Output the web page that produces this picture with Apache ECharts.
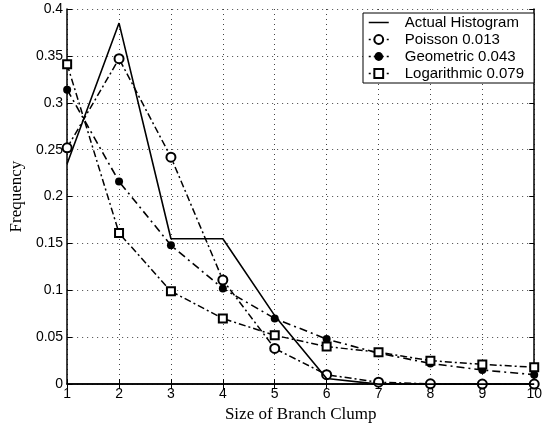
<!DOCTYPE html>
<html>
<head>
<meta charset="utf-8">
<script src="https://cdn.jsdelivr.net/npm/echarts@6/dist/echarts.min.js"></script>
<style>
html,body{margin:0;padding:0;background:#fff;}
#chart{width:545px;height:428px;}
</style>
</head>
<body>
<div id="chart"></div>
<script>
const sizes = [1, 2, 3, 4, 5, 6, 7, 8, 9, 10];
const actualHistogram = [0.235, 0.385, 0.155, 0.155, 0.073, 0.006, 0, 0, 0, 0];
const poisson = [0.252, 0.347, 0.242, 0.111, 0.038, 0.01, 0.002, 0.0003, 0, 0];
const geometric = [0.314, 0.216, 0.148, 0.102, 0.07, 0.048, 0.033, 0.022, 0.015, 0.01];
const logarithmic = [0.341, 0.161, 0.099, 0.07, 0.052, 0.04, 0.034, 0.025, 0.021, 0.018];
const seriesNames = ['Actual Histogram', 'Poisson 0.013', 'Geometric 0.043', 'Logarithmic 0.079'];
const yTickLabels = ['0', '0.05', '0.1', '0.15', '0.2', '0.25', '0.3', '0.35', '0.4'];

const pairs = arr => sizes.map((x, i) => [x, arr[i]]);
const tickFont = {fontFamily: 'Liberation Sans, Arial, sans-serif', fontSize: 14, color: '#000'};
const dashDot = [7, 3, 2, 3];
const legendDash = [2, 3, 5, 3];
const clear = 'rgba(0,0,0,0)';

const chart = echarts.init(document.getElementById('chart'), null, {renderer: 'canvas'});
chart.setOption({
  animation: false,
  backgroundColor: '#fff',
  grid: {left: 62, right: 6, top: 9, bottom: 42, containLabel: false},
  legend: {
    orient: 'vertical',
    left: 363, top: 13,
    backgroundColor: '#fff',
    borderColor: '#000', borderWidth: 1, borderRadius: 0,
    padding: [2, 10, 2, 5],
    itemGap: 2,
    itemWidth: 20, itemHeight: 11,
    textStyle: {fontFamily: 'Liberation Sans, Arial, sans-serif', fontSize: 15, color: '#000', padding: [0, 0, 0, 11]},
    data: [
      {name: seriesNames[0], itemStyle: {color: clear, borderColor: clear, borderWidth: 0}, lineStyle: {type: 'solid', width: 1.5, color: '#000'}},
      {name: seriesNames[1], lineStyle: {type: legendDash, width: 1.5, color: '#000'}},
      {name: seriesNames[2], lineStyle: {type: legendDash, width: 1.5, color: '#000'}},
      {name: seriesNames[3], lineStyle: {type: legendDash, width: 1.5, color: '#000'}}
    ]
  },
  xAxis: [{
    type: 'value', min: 1, max: 10, interval: 1,
    name: 'Size of Branch Clump', nameLocation: 'middle', nameGap: 19,
    nameTextStyle: {fontFamily: 'Liberation Serif, Times New Roman, serif', fontSize: 17, color: '#000'},
    axisLine: {show: true, lineStyle: {color: '#000', width: 1.5}},
    axisTick: {show: true, inside: true, length: 5, lineStyle: {color: '#000'}},
    axisLabel: Object.assign({margin: 3}, tickFont),
    splitLine: {show: true, lineStyle: {color: '#444', type: [1, 4], width: 1}}
  }, {
    type: 'value', min: 1, max: 10, interval: 1, position: 'top',
    axisLine: {show: true, lineStyle: {color: '#000', width: 1.5}},
    axisTick: {show: true, inside: true, length: 5, lineStyle: {color: '#000'}},
    axisLabel: {show: false}, splitLine: {show: false}
  }],
  yAxis: [{
    type: 'value', min: 0, max: 0.4, interval: 0.05,
    name: 'Frequency', nameLocation: 'middle', nameGap: 35, nameRotate: 90,
    nameTextStyle: {fontFamily: 'Liberation Serif, Times New Roman, serif', fontSize: 17, color: '#000'},
    axisLine: {show: true, lineStyle: {color: '#000', width: 1.5}},
    axisTick: {show: true, inside: true, length: 5, lineStyle: {color: '#000'}},
    axisLabel: Object.assign({margin: 4, formatter: (v) => yTickLabels[Math.round(v / 0.05)]}, tickFont),
    splitLine: {show: true, lineStyle: {color: '#444', type: [1, 4], width: 1}}
  }, {
    type: 'value', min: 0, max: 0.4, interval: 0.05, position: 'right',
    axisLine: {show: true, lineStyle: {color: '#000', width: 1.5}},
    axisTick: {show: true, inside: true, length: 5, lineStyle: {color: '#000'}},
    axisLabel: {show: false}, splitLine: {show: false}
  }],
  series: [{
    name: seriesNames[0], type: 'line', data: pairs(actualHistogram),
    symbol: 'none', lineStyle: {color: '#000', width: 1.6, type: 'solid'}, itemStyle: {color: '#000'}, z: 5
  }, {
    name: seriesNames[1], type: 'line', data: pairs(poisson),
    symbol: 'emptyCircle', symbolSize: 9,
    lineStyle: {color: '#000', width: 1.5, type: dashDot}, itemStyle: {color: '#000', borderWidth: 1.5}
  }, {
    name: seriesNames[2], type: 'line', data: pairs(geometric),
    symbol: 'circle', symbolSize: 8,
    lineStyle: {color: '#000', width: 1.6, type: [8, 4, 2, 4]}, itemStyle: {color: '#000'}
  }, {
    name: seriesNames[3], type: 'line', data: pairs(logarithmic),
    symbol: 'emptyRect', symbolSize: 8,
    lineStyle: {color: '#000', width: 1.5, type: dashDot}, itemStyle: {color: '#000', borderWidth: 1.5}
  }]
});
</script>
</body>
</html>
